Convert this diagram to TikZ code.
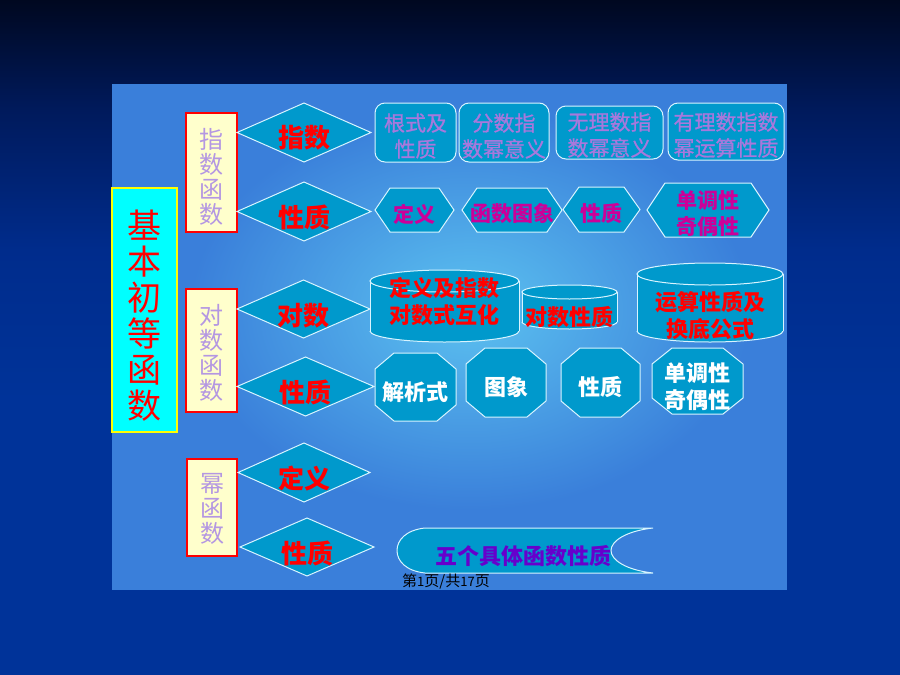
\documentclass[tikz,border=0pt]{standalone}
\usepackage{fontspec}
\setmainfont{Noto Sans CJK SC}
\newfontfamily\medcjk[FakeBold=0.9]{Noto Sans CJK SC}
\definecolor{shpfill}{HTML}{0099CC}
\definecolor{lav}{HTML}{B497E2}
\definecolor{lavb}{HTML}{A878DC}
\definecolor{mag}{HTML}{CC0099}
\definecolor{purp}{HTML}{6600CC}
\definecolor{boxyel}{HTML}{FFFFCC}
\definecolor{mainfill}{HTML}{00FFFF}
\definecolor{mainedge}{HTML}{FFFF00}
\definecolor{panelA}{HTML}{3A7FDA}
\definecolor{panelB}{HTML}{5CC2F0}
\definecolor{bgtop}{HTML}{000820}
\definecolor{bgmid}{HTML}{001A5C}
\definecolor{bgmid2}{HTML}{002C8C}
\definecolor{bgbot}{HTML}{003399}
\definecolor{edge}{HTML}{D8F4FF}
\newcommand\fsz[2]{\fontsize{#1}{#2}\selectfont}
\newcommand\hexpath[5]{\draw[shp] (#1,{(#2+#4)/2}) -- (#1+#5,#2) -- (#3-#5,#2) -- (#3,{(#2+#4)/2}) -- (#3-#5,#4) -- (#1+#5,#4) -- cycle;}
\newcommand\octpath[6]{\draw[shp] (#1+#5,#2) -- (#3-#5,#2) -- (#3,#2+#6) -- (#3,#4-#6) -- (#3-#5,#4) -- (#1+#5,#4) -- (#1,#4-#6) -- (#1,#2+#6) -- cycle;}
\newcommand\dpath[4]{\draw[shp] (#1,{(#2+#4)/2}) -- ({(#1+#3)/2},#2) -- (#3,{(#2+#4)/2}) -- ({(#1+#3)/2},#4) -- cycle;}
\newcommand\cylpath[5]{%
  \fill[shpfill] (#1,#2+#5) rectangle (#3,#4-#5);
  \fill[shpfill] ({(#1+#3)/2},#4-#5) ellipse [x radius={((#3)-(#1))*0.5pt}, y radius=#5pt];
  \draw[shpline] (#1,#2+#5) -- (#1,#4-#5) (#3,#2+#5) -- (#3,#4-#5);
  \begin{scope}
    \clip (#1-3,#4-#5) rectangle (#3+3,#4+3);
    \draw[shpline] ({(#1+#3)/2},#4-#5) ellipse [x radius={((#3)-(#1))*0.5pt}, y radius=#5pt];
  \end{scope}
  \draw[shp] ({(#1+#3)/2},#2+#5) ellipse [x radius={((#3)-(#1))*0.5pt}, y radius=#5pt];}
\tikzset{
  shp/.style={fill=shpfill, draw=edge, line width=1pt},
  shpline/.style={draw=edge, line width=1pt},
  txt/.style={inner sep=0pt, align=center},
  dtxt/.style={txt, text=red, font=\fsz{26}{28}\bfseries},
  labtxt/.style={txt, text=lav, font=\fsz{24}{25}},
  r1txt/.style={txt, text=lavb, font=\medcjk\fsz{21}{26}},
  h2txt/.style={txt, text=mag, font=\fsz{21}{26}\bfseries},
  c3txt/.style={txt, text=red, font=\fsz{22}{27}\bfseries},
  o4txt/.style={txt, text=white, font=\fsz{22}{27}\bfseries},
  fbox/.style={fill=boxyel, draw=red, line width=2.2pt}
}
\begin{document}
\begin{tikzpicture}[x=1pt,y=-1pt]
\useasboundingbox (0,0) rectangle (900,675);
% background
\fill[bgbot] (0,0) rectangle (900,675);
\shade[top color=bgtop, bottom color=bgmid] (0,0) rectangle (900,110);
\shade[top color=bgmid, bottom color=bgmid2] (0,110) rectangle (900,250);
\shade[top color=bgmid2, bottom color=bgbot] (0,250) rectangle (900,400);
% panel
\fill[panelA] (112,84) rectangle (787,590);
\shade[inner color=panelB, outer color=panelA] (470,310) ellipse [x radius=280pt, y radius=200pt];
% main box
\draw[fill=mainfill, draw=mainedge, line width=2pt] (112,188) rectangle (177,432);
\node[txt, text=red, font=\fsz{34}{36}] (main) at (144.5,315.5) {基\\本\\初\\等\\函\\数};
% category boxes
\draw[fbox] (186,113) rectangle (237,232);
\node[labtxt] (zhi) at (211.5,177) {指\\数\\函\\数};
\draw[fbox] (186,289) rectangle (237,412);
\node[labtxt] (dui) at (211.5,353) {对\\数\\函\\数};
\draw[fbox] (187,459) rectangle (237,556);
\node[labtxt] (mi) at (212,509) {幂\\函\\数};
% diamonds
\dpath{237}{103}{371}{162}
\node[dtxt] (d1) at (304,138) {指数};
\dpath{237}{182}{371}{241}
\node[dtxt] (d2) at (304,217) {性质};
\dpath{237}{280}{370}{338}
\node[dtxt] (d3) at (303.5,316) {对数};
\dpath{237}{357}{374}{416}
\node[dtxt] (d4) at (305.5,392) {性质};
\dpath{238}{443}{370}{502}
\node[dtxt] (d5) at (304,479) {定义};
\dpath{240}{518}{374}{576}
\node[dtxt] (d6) at (307,553) {性质};
% row 1 rounded boxes
\draw[shp, rounded corners=10pt] (375,103) rectangle (456,162);
\node[r1txt] (r1) at (415.5,136) {根式及\\性质};
\draw[shp, rounded corners=10pt] (459,103) rectangle (549,162);
\node[r1txt] (r2) at (504,136) {分数指\\数幂意义};
\draw[shp, rounded corners=10pt] (556,106) rectangle (663,159);
\node[r1txt] (r3) at (609.5,135) {无理数指\\数幂意义};
\draw[shp, rounded corners=10pt] (668,103) rectangle (784,160);
\node[r1txt] (r4) at (726,135) {有理数指数\\幂运算性质};
% row 2 hexagons
\hexpath{375}{188}{454}{232}{15}
\node[h2txt] (h1) at (414.5,214) {定义};
\hexpath{462}{188}{562}{232}{15}
\node[h2txt] (h2) at (512,214) {函数图象};
\hexpath{563}{187}{640}{232}{16}
\node[h2txt] (h3) at (601.5,213) {性质};
\hexpath{647}{183}{769}{237}{18}
\node[h2txt] (h4) at (708,214) {单调性\\奇偶性};
% row 3 cylinders
\cylpath{370}{270}{519}{342}{11}
\node[c3txt] (c1) at (444.5,301.5) {定义及指数\\对数式互化};
\cylpath{522}{285}{617}{329}{7}
\node[c3txt] (c2) at (569.5,317) {对数性质};
\cylpath{637}{263}{783}{342}{11}
\node[c3txt] (c3) at (710,315.5) {运算性质及\\换底公式};
% row 4 octagons
\octpath{375}{353}{456}{421}{19}{16}
\node[o4txt] (o1) at (415.5,392) {解析式};
\octpath{466}{348}{546}{417}{19}{16}
\node[o4txt] (o2) at (506,387) {图象};
\octpath{561}{348}{640}{417}{19}{16}
\node[o4txt] (o3) at (600.5,387) {性质};
\octpath{652}{348}{743}{414}{20}{16}
\node[o4txt] (o4) at (697.5,386.5) {单调性\\奇偶性};
% row 5 stored-data shape
\draw[shp] (425,528) -- (653,528) .. controls (626,531) and (611,541) .. (611,550.5) .. controls (611,560) and (626,570) .. (653,573) -- (425,573) .. controls (406,571) and (397,561) .. (397,550.5) .. controls (397,540) and (406,530) .. (425,528) -- cycle;
\node[txt, text=purp, font=\fsz{22}{24}\bfseries] (s1) at (523.5,556) {五个具体函数性质};
% footer
\node[txt, text=black, font=\fsz{15}{15}] (foot) at (446,581) {第{\fsz{13}{13}1}页/共{\fsz{13}{13}17}页};
\end{tikzpicture}
\end{document}
